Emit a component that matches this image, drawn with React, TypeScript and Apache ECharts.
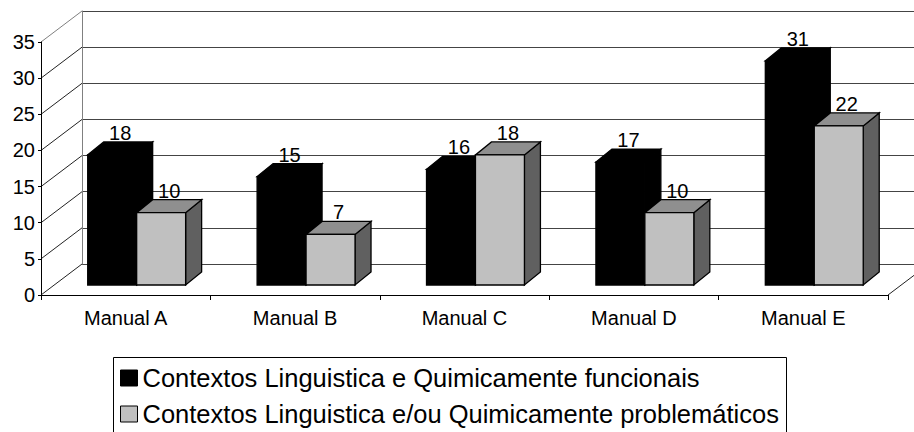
import React, { useEffect, useRef } from "react";
import * as echarts from "echarts";

const categories = ["Manual A", "Manual B", "Manual C", "Manual D", "Manual E"];
const seriesNames = [
  "Contextos Linguistica e Quimicamente funcionais",
  "Contextos Linguistica e/ou Quimicamente problemáticos",
];
const funcionais = [18, 15, 16, 17, 31];
const problematicos = [10, 7, 18, 10, 22];
const yTicks = [0, 5, 10, 15, 20, 25, 30, 35];
const yMin = 0;
const yMax = 35;
const yInterval = 5;

const FONT = "'Liberation Sans', Arial, Helvetica, sans-serif";

// geometry (styles)
const FRONT = { left: 41, top: 42, width: 847, height: 253 };
const WALL_DX = 41;
const WALL_DY = -31;
const BAR_DX = 13;
const BAR_DY = -10;
const DEPTH_DX = 16;
const DEPTH_DY = -13;
const BAR_W = 0.289;
const BAR_SHIFT = -0.012;

type Palette = { front: string; top: string; side: string; stroke: string };
const BLACK: Palette = { front: "#000", top: "#000", side: "#000", stroke: "#000" };
const GRAY: Palette = { front: "#c0c0c0", top: "#8f8f8f", side: "#606060", stroke: "#000" };

function barRenderer(side: number, pal: Palette) {
  return (params: any, api: any) => {
    const cat = api.value(0);
    const val = api.value(1);
    const base = api.coord([cat, 0]);
    const top = api.coord([cat, val]);
    const band = api.size([1, 0])[0];
    const w = band * BAR_W;
    const x0 = base[0] + band * BAR_SHIFT + (side === 0 ? -w : 0) + BAR_DX;
    const x1 = x0 + w;
    const yb = base[1] + BAR_DY;
    const yt = top[1] + BAR_DY;
    const lw = 1.3;
    return {
      type: "group",
      children: [
        {
          type: "polygon",
          shape: {
            points: [
              [x1, yt],
              [x1 + DEPTH_DX, yt + DEPTH_DY],
              [x1 + DEPTH_DX, yb + DEPTH_DY],
              [x1, yb],
            ],
          },
          style: { fill: pal.side, stroke: pal.stroke, lineWidth: lw },
        },
        {
          type: "polygon",
          shape: {
            points: [
              [x0, yt],
              [x1, yt],
              [x1 + DEPTH_DX, yt + DEPTH_DY],
              [x0 + DEPTH_DX, yt + DEPTH_DY],
            ],
          },
          style: { fill: pal.top, stroke: pal.stroke, lineWidth: lw },
        },
        {
          type: "rect",
          shape: { x: x0, y: yt, width: w, height: yb - yt },
          style: { fill: pal.front, stroke: pal.stroke, lineWidth: lw },
        },
        {
          type: "text",
          x: (x0 + x1) / 2 + DEPTH_DX / 2,
          y: yt + DEPTH_DY + 1,
          style: {
            text: String(val),
            fill: "#000",
            font: `20px ${FONT}`,
            align: "center",
            verticalAlign: "bottom",
          },
        },
      ],
    };
  };
}

function wallRenderer(params: any, api: any) {
  const v = api.value(0);
  const cs = params.coordSys;
  const p = api.coord([0, v]);
  const xl = cs.x;
  const y = p[1];
  const children: any[] = [
    {
      type: "line",
      shape: { x1: xl, y1: y, x2: xl + WALL_DX, y2: y + WALL_DY },
      style: { stroke: v === yMax ? "#808080" : "#222", lineWidth: 1 },
    },
  ];
  if (v === yMin) {
    const xr = cs.x + cs.width;
    children.push({
      type: "line",
      shape: { x1: xr, y1: y, x2: xr + WALL_DX, y2: y + WALL_DY },
      style: { stroke: "#222", lineWidth: 1 },
    });
  }
  return { type: "group", children };
}

export default function App() {
  const ref = useRef<HTMLDivElement>(null);
  useEffect(() => {
    document.body.style.margin = "0";
    if (!ref.current) return;
    const chart = echarts.init(ref.current, undefined, { renderer: "svg" });
    const option: any = {
      animation: false,
      backgroundColor: "#fff",
      textStyle: { fontFamily: FONT },
      grid: [
        { left: FRONT.left, top: FRONT.top, width: FRONT.width, height: FRONT.height },
        {
          left: FRONT.left + WALL_DX,
          top: FRONT.top + WALL_DY,
          width: FRONT.width,
          height: FRONT.height,
        },
      ],
      xAxis: [
        {
          type: "category",
          gridIndex: 0,
          data: categories,
          boundaryGap: true,
          axisLine: { show: true, lineStyle: { color: "#000", width: 1 } },
          axisTick: { show: true, length: 5, interval: 0, lineStyle: { color: "#000" } },
          axisLabel: { color: "#000", fontSize: 20, fontFamily: FONT, margin: 13, interval: 0 },
          splitLine: { show: false },
          z: 5,
        },
        {
          type: "value",
          gridIndex: 1,
          min: 0,
          max: 1,
          show: false,
        },
      ],
      yAxis: [
        {
          type: "value",
          gridIndex: 0,
          min: yMin,
          max: yMax,
          interval: yInterval,
          axisLine: { show: true, lineStyle: { color: "#000", width: 1 } },
          axisTick: { show: true, length: 3, lineStyle: { color: "#000" } },
          axisLabel: { color: "#000", fontSize: 20, fontFamily: FONT, margin: 6 },
          splitLine: { show: false },
          z: 5,
        },
        {
          type: "value",
          gridIndex: 1,
          min: yMin,
          max: yMax,
          interval: yInterval,
          axisLine: { show: true, lineStyle: { color: "#808080", width: 1 } },
          axisTick: { show: false },
          axisLabel: { show: false },
          splitLine: { show: true, lineStyle: { color: "#444", width: 1 } },
        },
      ],
      legend: {
        orient: "vertical",
        left: 120,
        top: 365,
        padding: 0,
        itemGap: 10,
        itemWidth: 17,
        itemHeight: 16,
        icon: "rect",
        textStyle: { color: "#000", fontSize: 25.5, fontFamily: FONT },
        data: [
          { name: seriesNames[0], itemStyle: { color: "#000", borderColor: "#000", borderWidth: 1 } },
          { name: seriesNames[1], itemStyle: { color: "#c0c0c0", borderColor: "#000", borderWidth: 1 } },
        ],
      },
      graphic: [
        {
          type: "rect",
          shape: { x: 113.5, y: 357.5, width: 673, height: 120 },
          style: { fill: "none", stroke: "#000", lineWidth: 1 },
          silent: true,
        },
      ],
      series: [
        {
          type: "custom",
          name: "wall",
          xAxisIndex: 0,
          yAxisIndex: 0,
          data: yTicks.map((v) => [v]),
          renderItem: wallRenderer,
          silent: true,
          z: 1,
        },
        {
          type: "custom",
          name: seriesNames[0],
          xAxisIndex: 0,
          yAxisIndex: 0,
          itemStyle: { color: "#000" },
          data: funcionais.map((v, i) => [i, v]),
          renderItem: barRenderer(0, BLACK),
          z: 3,
        },
        {
          type: "custom",
          name: seriesNames[1],
          xAxisIndex: 0,
          yAxisIndex: 0,
          itemStyle: { color: "#c0c0c0" },
          data: problematicos.map((v, i) => [i, v]),
          renderItem: barRenderer(1, GRAY),
          z: 4,
        },
      ],
    };
    chart.setOption(option);
    return () => chart.dispose();
  }, []);
  return <div ref={ref} style={{ width: 914, height: 432 }} />;
}
